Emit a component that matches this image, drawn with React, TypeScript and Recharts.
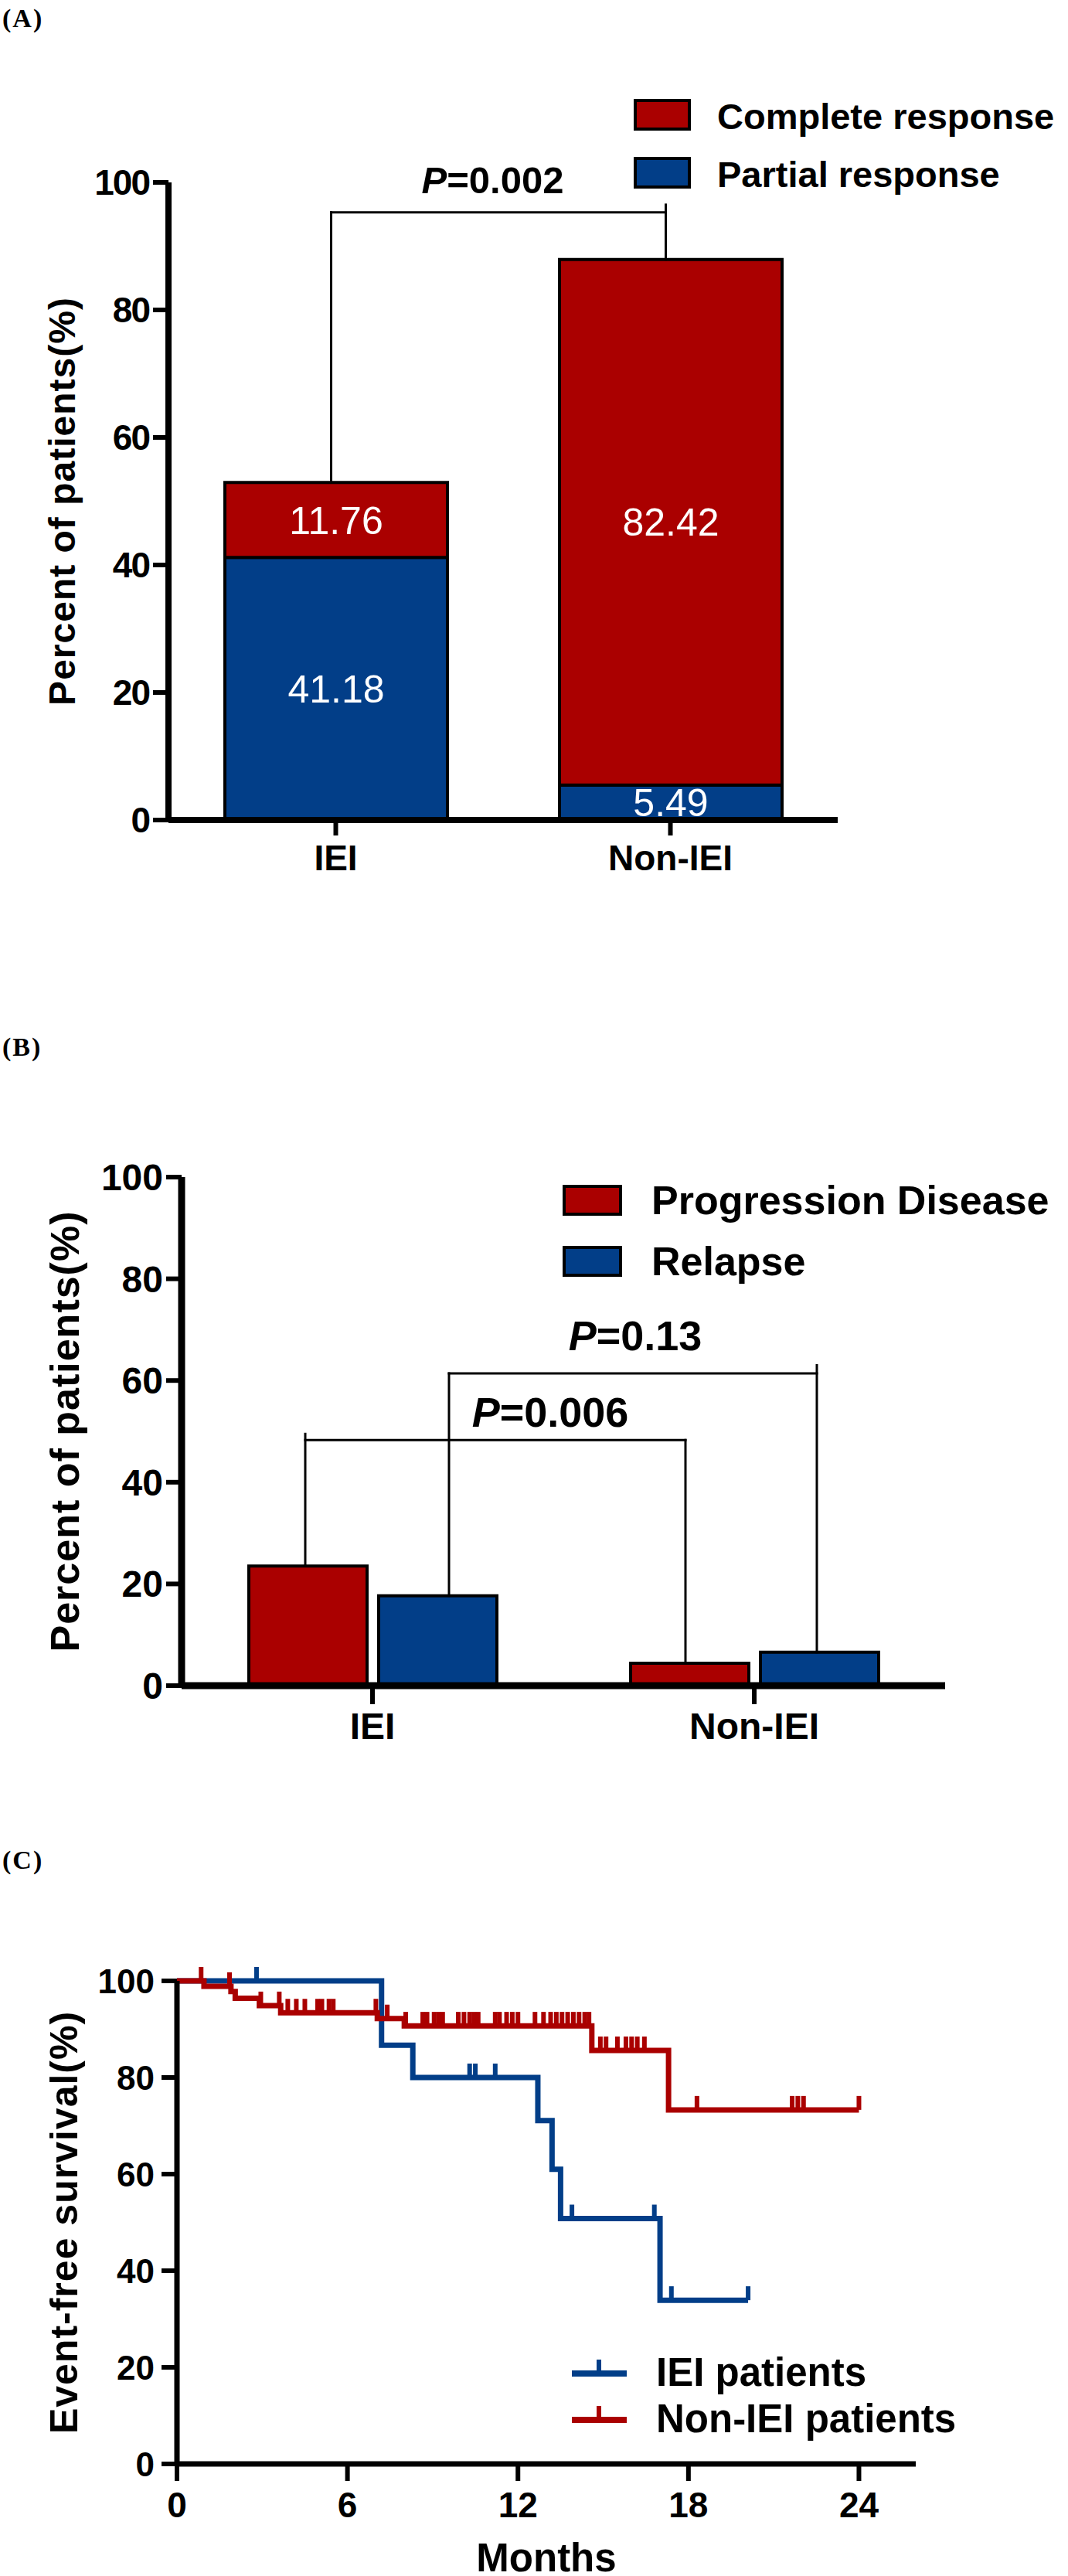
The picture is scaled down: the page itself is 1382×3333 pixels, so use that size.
import React from 'react';
import {
  BarChart,
  Bar,
  LineChart,
  Line,
  XAxis,
  YAxis,
  LabelList,
  ReferenceLine,
  ReferenceDot,
  Legend,
} from 'recharts';

const RED = '#aa0000';
const BLUE = '#023e88';
const SANS = '"Liberation Sans", Arial, Helvetica, sans-serif';
const SERIF = '"Liberation Serif", "Times New Roman", serif';

const percentTicks = [0, 20, 40, 60, 80, 100];

// (A) treatment response, % of patients
const groupsA = ['IEI', 'Non-IEI'];
const partialResponse = [41.18, 5.49];
const completeResponse = [11.76, 82.42];

// (B) progression / relapse, % of patients
const groupsB = ['IEI', 'Non-IEI'];
const progressionDisease = [23.53, 4.4];
const relapse = [17.65, 6.59];

// (C) event-free survival (Kaplan-Meier), 1 = censored
const ieiMonths = [0, 2.8, 7.2, 8.3, 10.3, 10.5, 11.2, 12.7, 13.2, 13.5, 13.9, 16.8, 17.0, 17.4, 20.1];
const ieiSurvival = [100, 100, 86.7, 80, 80, 80, 80, 71.1, 61.0, 50.8, 50.8, 50.8, 33.9, 33.9, 33.9];
const ieiCensored = [0, 1, 0, 0, 1, 1, 1, 0, 0, 0, 1, 1, 0, 1, 1];

const nonIeiMonths = [
  0, 0.85, 0.95, 1.85, 1.9, 2.05, 2.9, 2.95, 3.6, 3.65, 3.9, 4.2, 4.5, 4.95, 5.1, 5.35, 5.5,
  7.0, 7.05, 7.4, 8.0, 8.05, 8.65, 8.8, 9.05, 9.2, 9.35, 9.9, 10.1, 10.3, 10.45, 10.6,
  11.2, 11.35, 11.6, 11.8, 12.0, 12.6, 12.9, 13.15, 13.35, 13.55, 13.75, 13.95, 14.15, 14.35, 14.5,
  14.6, 14.9, 15.1, 15.5, 15.8, 16.0, 16.2, 16.45, 17.3, 18.3, 21.65, 21.85, 22.05, 24.0,
];
const nonIeiSurvival = [
  100, 100, 98.9, 98.9, 97.8, 96.4, 94.9, 94.9, 94.9, 93.4, 93.4, 93.4, 93.4, 93.4, 93.4, 93.4, 93.4,
  93.4, 92.2, 92.2, 90.7, 90.7, 90.7, 90.7, 90.7, 90.7, 90.7, 90.7, 90.7, 90.7, 90.7, 90.7,
  90.7, 90.7, 90.7, 90.7, 90.7, 90.7, 90.7, 90.7, 90.7, 90.7, 90.7, 90.7, 90.7, 90.7, 90.7,
  85.6, 85.6, 85.6, 85.6, 85.6, 85.6, 85.6, 85.6, 73.3, 73.3, 73.3, 73.3, 73.3, 73.3,
];
const nonIeiCensored = [
  0, 1, 0, 1, 0, 0, 0, 1, 1, 0, 1, 1, 1, 1, 1, 1, 1,
  1, 0, 1, 0, 1, 1, 1, 1, 1, 1, 1, 1, 1, 1, 1,
  1, 1, 1, 1, 1, 1, 1, 1, 1, 1, 1, 1, 1, 1, 1,
  0, 1, 1, 1, 1, 1, 1, 1, 0, 1, 1, 1, 1, 1,
];
const monthTicks = [0, 6, 12, 18, 24];

const dataA = groupsA.map((group, i) => ({
  group,
  partial: partialResponse[i],
  complete: completeResponse[i],
}));
const dataB = groupsB.map((group, i) => ({
  group,
  progression: progressionDisease[i],
  relapse: relapse[i],
}));
const kmRows = (months: number[], surv: number[], cens: number[]) =>
  months.map((month, i) => ({ month, survival: surv[i], censored: cens[i] === 1 }));
const ieiData = kmRows(ieiMonths, ieiSurvival, ieiCensored);
const nonIeiData = kmRows(nonIeiMonths, nonIeiSurvival, nonIeiCensored);

const axisLine = (w: number) => ({ stroke: '#000', strokeWidth: w });
const tickFont = (size: number) => ({
  fill: '#000',
  fontSize: size,
  fontWeight: 'bold',
  fontFamily: SANS,
});
const titleStyle = (size: number) => ({
  fill: '#000',
  fontSize: size,
  fontWeight: 'bold',
  fontFamily: SANS,
  textAnchor: 'middle' as const,
  letterSpacing: 1,
});

// line drawn between the reference points, nudged sideways (px) so the legs sit on a bar of the group
const shiftedLine = (dx1: number, dx2: number, w: number) => (p: any) => (
  <line x1={p.x1 + dx1} y1={p.y1} x2={p.x2 + dx2} y2={p.y2} stroke="#000" strokeWidth={w} strokeLinecap="square" />
);

// significance bracket: legs on group g1 / g2 (with pixel nudges), bar at height y
const bracket = (
  id: string,
  g1: string,
  g2: string,
  dx1: number,
  dx2: number,
  y: number,
  from1: number,
  from2: number,
  top1: number,
  top2: number,
  w: number,
) => [
  <ReferenceLine key={id + 'l'} segment={[{ x: g1, y: from1 }, { x: g1, y: top1 }]} shape={shiftedLine(dx1, dx1, w)} />,
  <ReferenceLine key={id + 'h'} segment={[{ x: g1, y }, { x: g2, y }]} shape={shiftedLine(dx1, dx2, w)} />,
  <ReferenceLine key={id + 'r'} segment={[{ x: g2, y: from2 }, { x: g2, y: top2 }]} shape={shiftedLine(dx2, dx2, w)} />,
];

const pText = (value: string, size: number, dx: number) => (props: any) => (
  <text x={props.cx + dx} y={props.cy} textAnchor="middle" fontFamily={SANS} fontWeight="bold" fontSize={size} fill="#000">
    <tspan fontStyle="italic">P</tspan>
    {'=' + value}
  </text>
);

const boxLegend =
  (o: { rows: number[]; boxX: number; boxW: number; boxH: number; textX: number; size: number }) =>
  (props: any) => {
    const items = props.payload || [];
    return (
      <svg width={660} height={150} style={{ display: 'block', overflow: 'visible' }}>
        {items.map((it: any, i: number) => (
          <g key={it.value}>
            <rect x={o.boxX} y={o.rows[i]} width={o.boxW} height={o.boxH} fill={it.color} stroke="#000" strokeWidth={4} />
            <text x={o.textX} y={o.rows[i] + o.boxH} fontFamily={SANS} fontWeight="bold" fontSize={o.size} fill="#000">
              {it.value}
            </text>
          </g>
        ))}
      </svg>
    );
  };

const kmLegend = (props: any) => {
  const items = props.payload || [];
  const rows = [41, 101];
  return (
    <svg width={660} height={150} style={{ display: 'block', overflow: 'visible' }}>
      {items.map((it: any, i: number) => (
        <g key={it.value}>
          <line x1={5} x2={76} y1={rows[i]} y2={rows[i]} stroke={it.color} strokeWidth={8} />
          <line x1={40} x2={40} y1={rows[i]} y2={rows[i] - 18} stroke={it.color} strokeWidth={6} />
          <text x={114} y={rows[i] + 16} fontFamily={SANS} fontWeight="bold" fontSize={51} fill="#000">
            {it.value}
          </text>
        </g>
      ))}
    </svg>
  );
};

const CensorTick = (props: any) => {
  const { cx, cy, payload, stroke, index } = props;
  if (!payload || !payload.censored) return <g key={'n' + index} />;
  return <line key={'c' + index} x1={cx} x2={cx} y1={cy} y2={cy - 18} stroke={stroke} strokeWidth={6} />;
};

const panelLabel = (text: string, top: number) => (
  <div
    style={{
      position: 'absolute',
      left: 3,
      top,
      fontFamily: SERIF,
      fontWeight: 'bold',
      fontSize: 34,
      lineHeight: '34px',
      letterSpacing: 2,
      color: '#000',
    }}
  >
    {text}
  </div>
);

export default function App() {
  const stackTopA = groupsA.map((_, i) => partialResponse[i] + completeResponse[i]);
  return (
    <div style={{ position: 'absolute', left: 0, top: 0, width: 1382, height: 3333, background: '#fff' }}>
      {panelLabel('(A)', 7)}
      {panelLabel('(B)', 1338)}
      {panelLabel('(C)', 2390)}

      <div style={{ position: 'absolute', left: 0, top: 0 }}>
        <BarChart width={1382} height={1160} data={dataA} margin={{ top: 236, right: 298, bottom: 19, left: 0 }}>
          <XAxis
            dataKey="group"
            interval={0}
            height={80}
            axisLine={axisLine(8)}
            tickLine={axisLine(6)}
            tickSize={20}
            tickMargin={12}
            tick={tickFont(46)}
          />
          <YAxis
            domain={[0, 100]}
            ticks={percentTicks}
            interval={0}
            width={218}
            axisLine={axisLine(8)}
            tickLine={axisLine(6)}
            tickSize={20}
            tickMargin={5}
            tick={{ ...tickFont(46), letterSpacing: -2 }}
            label={{ value: 'Percent of patients(%)', angle: -90, position: 'insideLeft', offset: 80, style: titleStyle(48) }}
          />
          <Legend
            layout="vertical"
            align="center"
            verticalAlign="middle"
            wrapperStyle={{ left: 815, top: 120, width: 567, height: 150 }}
            content={boxLegend({ rows: [10, 85], boxX: 7, boxW: 70, boxH: 37, textX: 113, size: 47 })}
          />
          <Bar dataKey="partial" name="Partial response" stackId="r" fill={BLUE} stroke="#000" strokeWidth={4} barSize={288} isAnimationActive={false}>
            <LabelList dataKey="partial" position="center" fill="#fff" fontSize={50} fontFamily={SANS} />
          </Bar>
          <Bar dataKey="complete" name="Complete response" stackId="r" fill={RED} stroke="#000" strokeWidth={4} barSize={288} isAnimationActive={false}>
            <LabelList dataKey="complete" position="center" fill="#fff" fontSize={50} fontFamily={SANS} />
          </Bar>
          {bracket('a', groupsA[0], groupsA[1], -6, -6, 95.3, stackTopA[0], stackTopA[1], 95.3, 96.5, 3)}
          <ReferenceDot x={groupsA[0]} y={98.3} r={1} shape={pText('0.002', 49, 203)} />
        </BarChart>
      </div>

      <div style={{ position: 'absolute', left: 0, top: 1380 }}>
        <BarChart width={1382} height={900} data={dataB} barGap={15} margin={{ top: 143, right: 159, bottom: 14, left: 0 }}>
          <XAxis
            dataKey="group"
            interval={0}
            height={85}
            axisLine={axisLine(9)}
            tickLine={axisLine(6)}
            tickSize={24}
            tickMargin={11}
            tick={tickFont(48)}
          />
          <YAxis
            domain={[0, 100]}
            ticks={percentTicks}
            interval={0}
            width={235}
            axisLine={axisLine(9)}
            tickLine={axisLine(6)}
            tickSize={20}
            tickMargin={4}
            tick={tickFont(48)}
            label={{ value: 'Percent of patients(%)', angle: -90, position: 'insideLeft', offset: 84, style: titleStyle(52) }}
          />
          <Legend
            layout="vertical"
            align="center"
            verticalAlign="middle"
            wrapperStyle={{ left: 720, top: 145, width: 662, height: 150 }}
            content={boxLegend({ rows: [10, 89], boxX: 10, boxW: 73, boxH: 36, textX: 123, size: 52 })}
          />
          <Bar dataKey="progression" name="Progression Disease" fill={RED} stroke="#000" strokeWidth={4} barSize={153} isAnimationActive={false} />
          <Bar dataKey="relapse" name="Relapse" fill={BLUE} stroke="#000" strokeWidth={4} barSize={153} isAnimationActive={false} />
          {bracket('b1', groupsB[0], groupsB[1], -87, -89, 48.3, progressionDisease[0], progressionDisease[1], 49.5, 48.3, 3)}
          {bracket('b2', groupsB[0], groupsB[1], 99, 81, 61.4, relapse[0], relapse[1], 61.4, 63, 3)}
          <ReferenceDot x={groupsB[0]} y={50.9} r={1} shape={pText('0.006', 54, 230)} />
          <ReferenceDot x={groupsB[0]} y={66} r={1} shape={pText('0.13', 54, 340)} />
        </BarChart>
      </div>

      <div style={{ position: 'absolute', left: 0, top: 2450 }}>
        <LineChart width={1382} height={883} margin={{ top: 113, right: 197, bottom: 0, left: 0 }}>
          <XAxis
            dataKey="month"
            type="number"
            domain={[0, 26]}
            ticks={monthTicks}
            interval={0}
            height={145}
            axisLine={axisLine(7)}
            tickLine={axisLine(6)}
            tickSize={22}
            tickMargin={14}
            tick={tickFont(46)}
            label={{ value: 'Months', position: 'insideBottom', offset: 6, style: { ...titleStyle(51), letterSpacing: 0 } }}
          />
          <YAxis
            domain={[0, 100]}
            ticks={percentTicks}
            interval={0}
            width={229}
            axisLine={axisLine(7)}
            tickLine={axisLine(6)}
            tickSize={20}
            tickMargin={9}
            tick={tickFont(44)}
            label={{ value: 'Event-free survival(%)', angle: -90, position: 'insideLeft', offset: 82, style: titleStyle(50) }}
          />
          <Legend
            layout="vertical"
            align="center"
            verticalAlign="middle"
            wrapperStyle={{ left: 735, top: 580, width: 647, height: 150 }}
            content={kmLegend}
          />
          <Line
            data={ieiData}
            dataKey="survival"
            name="IEI patients"
            type="stepAfter"
            stroke={BLUE}
            strokeWidth={7}
            dot={CensorTick}
            activeDot={false}
            isAnimationActive={false}
          />
          <Line
            data={nonIeiData}
            dataKey="survival"
            name="Non-IEI patients"
            type="stepAfter"
            stroke={RED}
            strokeWidth={7}
            dot={CensorTick}
            activeDot={false}
            isAnimationActive={false}
          />
        </LineChart>
      </div>
    </div>
  );
}
